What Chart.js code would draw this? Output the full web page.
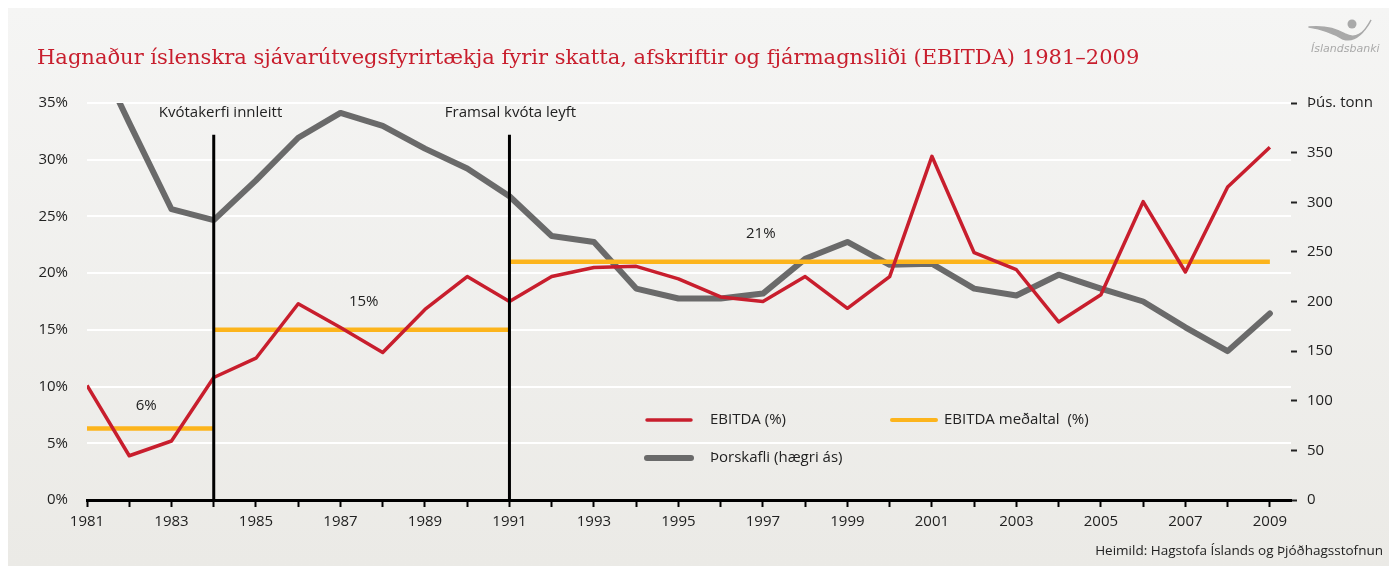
<!DOCTYPE html>
<html>
<head>
<meta charset="utf-8">
<script src="https://cdn.jsdelivr.net/npm/chart.js@4"></script>
<style>
  html, body { margin: 0; padding: 0; background: #fff; }
  #panel {
    position: absolute; left: 8px; top: 8px; width: 1381px; height: 558px;
    background: linear-gradient(#f5f5f4, #ebeae6);
  }
  #wrap { position: absolute; left: 0; top: 0; width: 1389px; height: 567px; }
</style>
</head>
<body>
<div id="panel"></div>
<div id="wrap"><canvas id="ebitdaChart" width="1389" height="567"></canvas></div>
<script>
const years = [1981, 1982, 1983, 1984, 1985, 1986, 1987, 1988, 1989, 1990,
               1991, 1992, 1993, 1994, 1995, 1996, 1997, 1998, 1999, 2000,
               2001, 2002, 2003, 2004, 2005, 2006, 2007, 2008, 2009];
// EBITDA sem hlutfall (%)
const ebitda = [10.1, 3.9, 5.2, 10.8, 12.5, 17.3, 15.2, 13.0, 16.8, 19.7,
                17.5, 19.7, 20.5, 20.6, 19.5, 17.9, 17.5, 19.7, 16.9, 19.7,
                30.3, 21.8, 20.3, 15.7, 18.1, 26.3, 20.1, 27.6, 31.1];
// Þorskafli, þús. tonn (hægri ás)
const codCatch = [469, 380, 293, 282, 322, 365, 390, 377, 354, 334,
                  306, 266, 260, 213, 203, 203, 208, 243, 260, 237,
                  238, 213, 206, 227, 213, 200, 174, 150, 188];
// meðaltöl tímabila
const avgStart = [1981, 1984, 1991];
const avgEnd = [1984, 1991, 2009];
const avgValue = [6.3, 15, 21];
const avgLabels = ['6%', '15%', '21%'];
const avgLabelPos = [[1982.4, 8.3], [1987.55, 17.45], [1996.95, 23.5]];
// atburðir
const eventYears = [1984, 1991];
const eventLabels = ['Kvótakerfi innleitt', 'Framsal kvóta leyft'];
const eventLabelStart = [1982.7, 1989.47];
const eventTop = 32.2;

const leftTicks = [0, 5, 10, 15, 20, 25, 30, 35];
const rightTicks = [0, 50, 100, 150, 200, 250, 300, 350, 400];

const TITLE = 'Hagnaður íslenskra sjávarútvegsfyrirtækja fyrir skatta, afskriftir og fjármagnsliði (EBITDA) 1981–2009';
const RED = '#c81e2d';
const YELLOW = '#fcb41c';
const GREY = '#6a6a6a';
const TEXT = '#222';
const FONT = "'Open Sans', 'Noto Sans', sans-serif";

Chart.defaults.font.family = FONT;
Chart.defaults.font.size = 15;
Chart.defaults.color = TEXT;

const datasets = [];
eventYears.forEach(yr => {
    datasets.push({
        data: [{ x: yr, y: 0 }, { x: yr, y: eventTop }],
        borderColor: '#000', borderWidth: 3, pointRadius: 0, yAxisID: 'y'
    });
});
datasets.push({
    label: 'EBITDA (%)',
    data: years.map((x, i) => ({ x, y: ebitda[i] })),
    borderColor: RED, borderWidth: 3.5, pointRadius: 0, tension: 0,
    borderJoinStyle: 'round', yAxisID: 'y'
});
avgValue.forEach((v, i) => {
    datasets.push({
        label: 'EBITDA meðaltal  (%)',
        data: [{ x: avgStart[i], y: v }, { x: avgEnd[i], y: v }],
        borderColor: YELLOW, borderWidth: 4.5, pointRadius: 0, yAxisID: 'y'
    });
});
datasets.push({
    label: 'Þorskafli (hægri ás)',
    data: years.map((x, i) => ({ x, y: codCatch[i] })),
    borderColor: GREY, borderWidth: 6, pointRadius: 0, tension: 0,
    borderJoinStyle: 'round', borderCapStyle: 'round', yAxisID: 'y2'
});

const decor = {
    id: 'decor',
    afterDraw(chart) {
        const ctx = chart.ctx;
        const xs = chart.scales.x, ys = chart.scales.y;
        ctx.save();

        // titill, stækkaður svo hann nái sömu breidd
        ctx.fillStyle = RED;
        ctx.textAlign = 'left';
        ctx.textBaseline = 'alphabetic';
        ctx.font = "22px 'DejaVu Serif', 'Liberation Serif', serif";
        const size = 22 * 1103 / ctx.measureText(TITLE).width;
        ctx.font = size.toFixed(2) + "px 'DejaVu Serif', 'Liberation Serif', serif";
        ctx.fillText(TITLE, 37, 64);

        // merki
        ctx.strokeStyle = '#a9a9a9';
        ctx.fillStyle = '#a9a9a9';
        ctx.lineCap = 'round';
        ctx.beginPath();
        ctx.moveTo(1309, 27);
        ctx.quadraticCurveTo(1330, 25, 1345, 34);
        ctx.quadraticCurveTo(1360, 42, 1371, 20);
        ctx.quadraticCurveTo(1358, 44, 1343, 39);
        ctx.quadraticCurveTo(1328, 30, 1309, 27);
        ctx.fill();
        ctx.lineWidth = 1.5;
        ctx.stroke();
        ctx.beginPath();
        ctx.arc(1352, 24, 4.5, 0, Math.PI * 2);
        ctx.fill();
        ctx.font = "italic 11px 'DejaVu Sans', sans-serif";
        ctx.fillText('Íslandsbanki', 1311, 52);

        // atburðir
        ctx.fillStyle = TEXT;
        ctx.font = '15px ' + FONT;
        ctx.textBaseline = 'middle';
        eventLabels.forEach((t, i) => {
            ctx.fillText(t, xs.getPixelForValue(eventLabelStart[i]), ys.getPixelForValue(34.1));
        });
        // meðaltöl
        ctx.textAlign = 'center';
        avgLabels.forEach((t, i) => {
            ctx.fillText(t, xs.getPixelForValue(avgLabelPos[i][0]), ys.getPixelForValue(avgLabelPos[i][1]));
        });

        // skýringar
        const items = [
            { text: 'EBITDA (%)', color: RED, w: 3.5, x: 645, y: 420, gap: 65 },
            { text: 'EBITDA meðaltal  (%)', color: YELLOW, w: 4, x: 890, y: 420, gap: 54 },
            { text: 'Þorskafli (hægri ás)', color: GREY, w: 6, x: 645, y: 458, gap: 65 }
        ];
        ctx.textAlign = 'left';
        items.forEach(it => {
            ctx.strokeStyle = it.color;
            ctx.lineWidth = it.w;
            ctx.lineCap = 'round';
            ctx.beginPath();
            ctx.moveTo(it.x + 2, it.y);
            ctx.lineTo(it.x + 46, it.y);
            ctx.stroke();
            ctx.fillText(it.text, it.x + it.gap, it.y);
        });

        // heimild
        ctx.textAlign = 'right';
        ctx.font = '13.5px ' + FONT;
        ctx.fillText('Heimild: Hagstofa Íslands og Þjóðhagsstofnun', 1383, 551);
        ctx.restore();
    }
};

new Chart(document.getElementById('ebitdaChart'), {
    type: 'line',
    data: { datasets },
    plugins: [decor],
    options: {
        responsive: false,
        animation: false,
        devicePixelRatio: 1,
        layout: { padding: { top: 103, left: 0, right: 0, bottom: 0 } },
        plugins: { legend: { display: false }, tooltip: { enabled: false } },
        scales: {
            x: {
                type: 'linear', min: 1981, max: 2009.5,
                afterBuildTicks: axis => { axis.ticks = years.map(v => ({ value: v })); },
                afterFit: axis => { axis.height = 67; },
                ticks: {
                    autoSkip: false, maxRotation: 0, padding: 6, color: TEXT,
                    callback: v => (v % 2 === 1 ? String(v) : '')
                },
                grid: { drawOnChartArea: false, drawTicks: true, tickLength: 7, tickColor: '#000', tickWidth: 2 },
                border: { color: '#000', width: 3 }
            },
            y: {
                position: 'left', min: 0, max: 35,
                afterBuildTicks: axis => { axis.ticks = leftTicks.map(v => ({ value: v })); },
                afterFit: axis => { axis.width = 87; },
                ticks: { padding: 19, color: TEXT, callback: v => v + '%' },
                grid: {
                    drawTicks: false, lineWidth: 2,
                    color: c => (c.tick && c.tick.value === 0 ? 'rgba(0,0,0,0)' : '#ffffff')
                },
                border: { display: false }
            },
            y2: {
                position: 'right', min: 0, max: 400,
                afterBuildTicks: axis => { axis.ticks = rightTicks.map(v => ({ value: v })); },
                afterFit: axis => { axis.width = 98; },
                ticks: { padding: 10, color: TEXT, callback: v => (v === 400 ? 'Þús. tonn' : String(v)) },
                grid: { drawOnChartArea: false, drawTicks: true, tickLength: 6, tickColor: '#222', tickWidth: 2 },
                border: { display: false }
            }
        }
    }
});
</script>
</body>
</html>
